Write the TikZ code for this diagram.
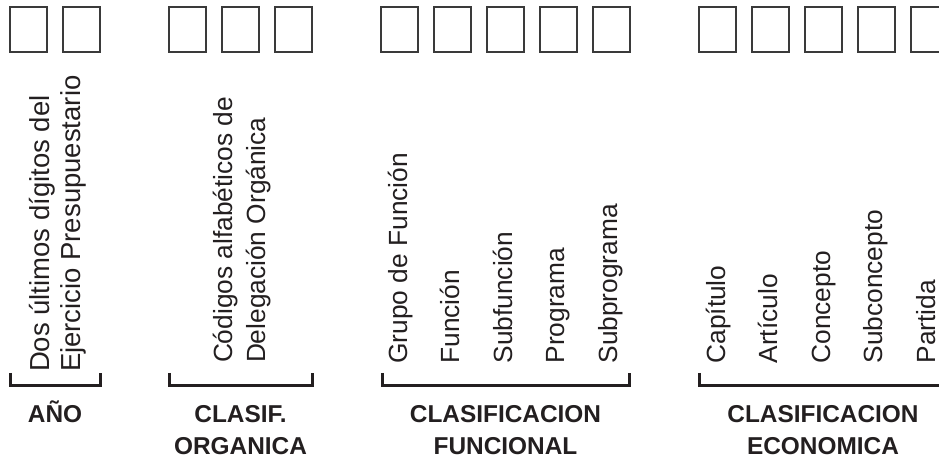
\documentclass[tikz,border=0pt]{standalone}
\usepackage{fontspec}
\setmainfont{Liberation Sans}
\definecolor{ink}{HTML}{231F20}
\definecolor{boxgray}{HTML}{3A3A3A}
\begin{document}
\begin{tikzpicture}[x=1bp,y=-1bp,
  cell/.style={draw=boxgray, line width=1.4bp, minimum width=37bp, minimum height=45bp, inner sep=0, outer sep=0, anchor=north west},
  vlab/.style={rotate=90, anchor=base west, inner sep=0, outer sep=0, font=\fontsize{26.4}{32}\selectfont, text=ink},
  vlabbig/.style={vlab, font=\fontsize{27.6}{32}\selectfont},
  glab/.style={anchor=base, inner sep=0, outer sep=0, font=\fontsize{24.5}{30}\selectfont\bfseries, text=ink},
  brk/.style={draw=ink, line width=3bp}]
\useasboundingbox (0,0) rectangle (939,459);
% boxes
\foreach \n/\x in {a1/10,a2/63,b1/169,b2/222,b3/275,c1/381,c2/434,c3/487,c4/540,c5/593,d1/699,d2/752,d3/805,d4/858,d5/911}
  \node[cell] (box\n) at (\x,7) {};
% rotated texts
\node[vlabbig] (t1a) at (49,372) {Dos últimos dígitos del};
\node[vlabbig] (t1b) at (80.5,372) {Ejercicio Presupuestario};
\node[vlab] (t2a) at (232,363) {Códigos alfabéticos de};
\node[vlab] (t2b) at (265,363) {Delegación Orgánica};
\node[vlab] (t3a) at (407,363.5) {Grupo de Función};
\node[vlab] (t3b) at (459,363.5) {Función};
\node[vlab] (t3c) at (512,363.5) {Subfunción};
\node[vlab] (t3d) at (564,363.5) {Programa};
\node[vlab] (t3e) at (617,363.5) {Subprograma};
\node[vlab] (t4a) at (725,363.5) {Capítulo};
\node[vlab] (t4b) at (777,363.5) {Artículo};
\node[vlab] (t4c) at (830,363.5) {Concepto};
\node[vlab] (t4d) at (882,363.5) {Subconcepto};
\node[vlab] (t4e) at (935,363.5) {Partida};
% brackets
\draw[brk] (10,373) -- (10,386) -- (100,386) -- (100,373);
\draw[brk] (169,373) -- (169,386) -- (312,386) -- (312,373);
\draw[brk] (382,373) -- (382,386) -- (629,386) -- (629,373);
\draw[brk] (699,373) -- (699,386) -- (947,386) -- (947,373);
% group labels
\node[glab] (g1) at (55,422) {AÑO};
\node[glab] (g2a) at (240.5,422) {CLASIF.};
\node[glab] (g2b) at (240.5,454) {ORGANICA};
\node[glab] (g3a) at (505.5,422) {CLASIFICACION};
\node[glab] (g3b) at (505.5,454) {FUNCIONAL};
\node[glab] (g4a) at (823,422) {CLASIFICACION};
\node[glab] (g4b) at (823,454) {ECONOMICA};
\end{tikzpicture}
\end{document}
